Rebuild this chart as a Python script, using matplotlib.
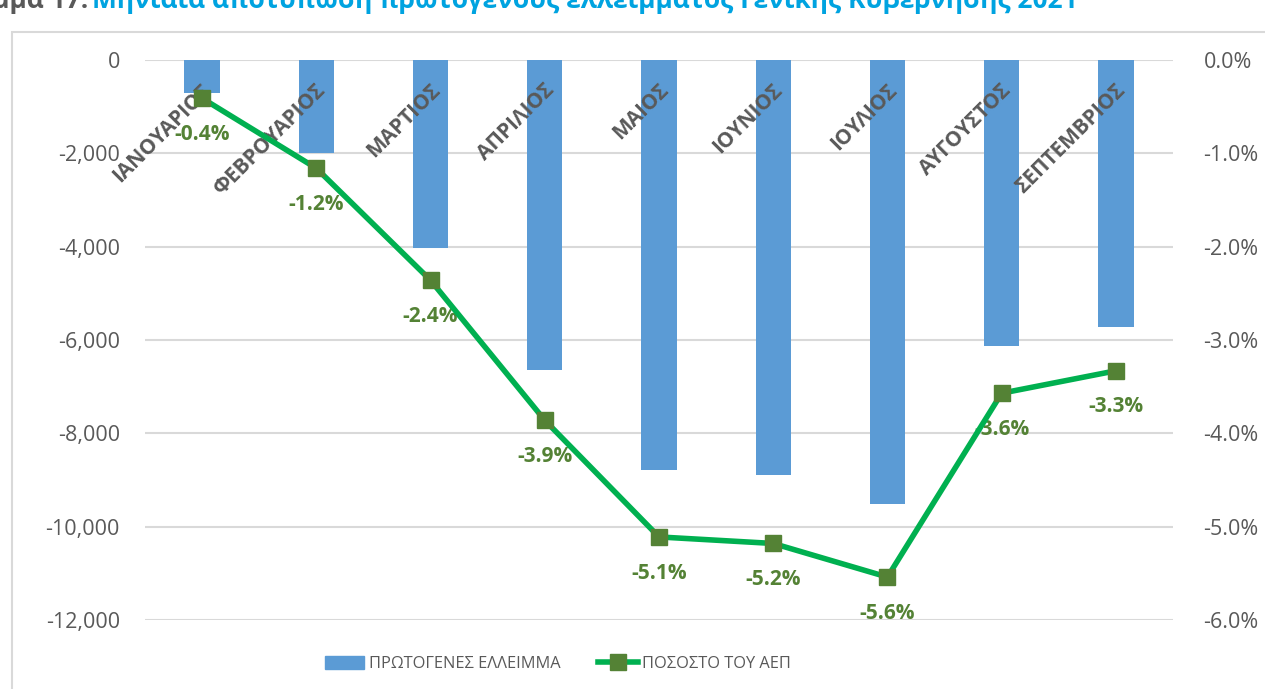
import matplotlib
matplotlib.use("Agg")
import matplotlib.pyplot as plt
from matplotlib.patches import Rectangle
from matplotlib.lines import Line2D
from matplotlib.ticker import FuncFormatter

plt.rcParams['font.family'] = ['Open Sans', 'DejaVu Sans']

months = ["ΙΑΝΟΥΑΡΙΟΣ", "ΦΕΒΡΟΥΑΡΙΟΣ", "ΜΑΡΤΙΟΣ", "ΑΠΡΙΛΙΟΣ", "ΜΑΙΟΣ",
          "ΙΟΥΝΙΟΣ", "ΙΟΥΛΙΟΣ", "ΑΥΓΟΥΣΤΟΣ", "ΣΕΠΤΕΜΒΡΙΟΣ"]
deficit = [-700, -1990, -4030, -6640, -8790, -8890, -9510, -6130, -5720]
pct_gdp = [-0.41, -1.16, -2.36, -3.86, -5.11, -5.18, -5.54, -3.57, -3.33]
pct_labels = ["-0.4%", "-1.2%", "-2.4%", "-3.9%", "-5.1%", "-5.2%", "-5.6%", "-3.6%", "-3.3%"]
left_ticks = [0, -2000, -4000, -6000, -8000, -10000, -12000]
right_ticks = [0, -1, -2, -3, -4, -5, -6]
series_names = ["ΠΡΩΤΟΓΕΝΕΣ ΕΛΛΕΙΜΜΑ", "ΠΟΣΟΣΤΟ ΤΟΥ ΑΕΠ"]
title_num = "Διάγραμμα 17:"
title_txt = "Μηνιαία αποτύπωση πρωτογενούς ελλείμματος Γενικής Κυβέρνησης 2021"

W, H = 1265, 689
fig = plt.figure(figsize=(W / 100, H / 100), dpi=100)
fig.patch.set_facecolor("white")

# outer frame
fig.add_artist(Rectangle((12 / W, -0.01), 1.1, 1 - 32 / H + 0.01, transform=fig.transFigure,
                         fill=False, edgecolor="#d9d9d9", linewidth=1.5))

# title (cut off at top of the image, as in the reference)
fig.text(88 / W, 1 - 8 / H, title_num, ha="right", va="baseline", fontsize=19,
         fontweight="bold", color="#595959")
fig.text(92 / W, 1 - 8 / H, title_txt, ha="left", va="baseline", fontsize=19,
         fontweight="bold", color="#00a3e0")

ax = fig.add_axes([145 / W, 1 - 620 / H, (1173 - 145) / W, (620 - 60) / H])
x = list(range(len(months)))
grid_c = "#d9d9d9"
txt_c = "#595959"

ax.bar(x, deficit, width=0.31, color="#5b9bd5", zorder=2)
ax.set_xlim(-0.5, len(months) - 0.5)
ax.set_ylim(-12000, 0)
ax.set_yticks(left_ticks)
ax.yaxis.set_major_formatter(FuncFormatter(lambda v, p: f"{v:,.0f}"))
ax.tick_params(axis="y", length=0, pad=18, labelsize=15.5, labelcolor=txt_c)
ax.set_xticks([])
for s in ax.spines.values():
    s.set_visible(False)
for t in left_ticks:
    ax.axhline(t, color=grid_c, linewidth=1.5, zorder=1)

for i, m in enumerate(months):
    ax.text(i - 0.01, -420, m, rotation=45, rotation_mode="anchor", ha="right", va="top",
            fontsize=15, fontweight="bold", color=txt_c, zorder=5)

ax2 = ax.twinx()
ax2.set_ylim(-6, 0)
ax2.set_yticks(right_ticks)
ax2.yaxis.set_major_formatter(FuncFormatter(lambda v, p: f"{v:.1f}%"))
ax2.tick_params(axis="y", length=0, pad=22, labelsize=15.5, labelcolor=txt_c)
for s in ax2.spines.values():
    s.set_visible(False)
ax2.plot(x, pct_gdp, color="#00b050", linewidth=4, marker="s", markersize=11,
         markerfacecolor="#548235", markeredgecolor="#548235", zorder=4)
for i, (v, lab) in enumerate(zip(pct_gdp, pct_labels)):
    ax2.annotate(lab, (i, v), xytext=(0, -26), textcoords="offset points", ha="center",
                 va="center", fontsize=15, fontweight="bold", color="#548235")

handles = [Rectangle((0, 0), 1, 1, color="#5b9bd5"),
           Line2D([], [], color="#00b050", linewidth=4, marker="s", markersize=11,
                  markerfacecolor="#548235", markeredgecolor="#548235")]
leg = fig.legend(handles, series_names, loc="center", bbox_to_anchor=(558 / W, 1 - 664 / H),
                 ncol=2, frameon=False, fontsize=11.8, handlelength=2.4, handleheight=0.8,
                 handletextpad=0.3, columnspacing=2.3, labelcolor=txt_c)

fig.savefig("out.png", dpi=100)
